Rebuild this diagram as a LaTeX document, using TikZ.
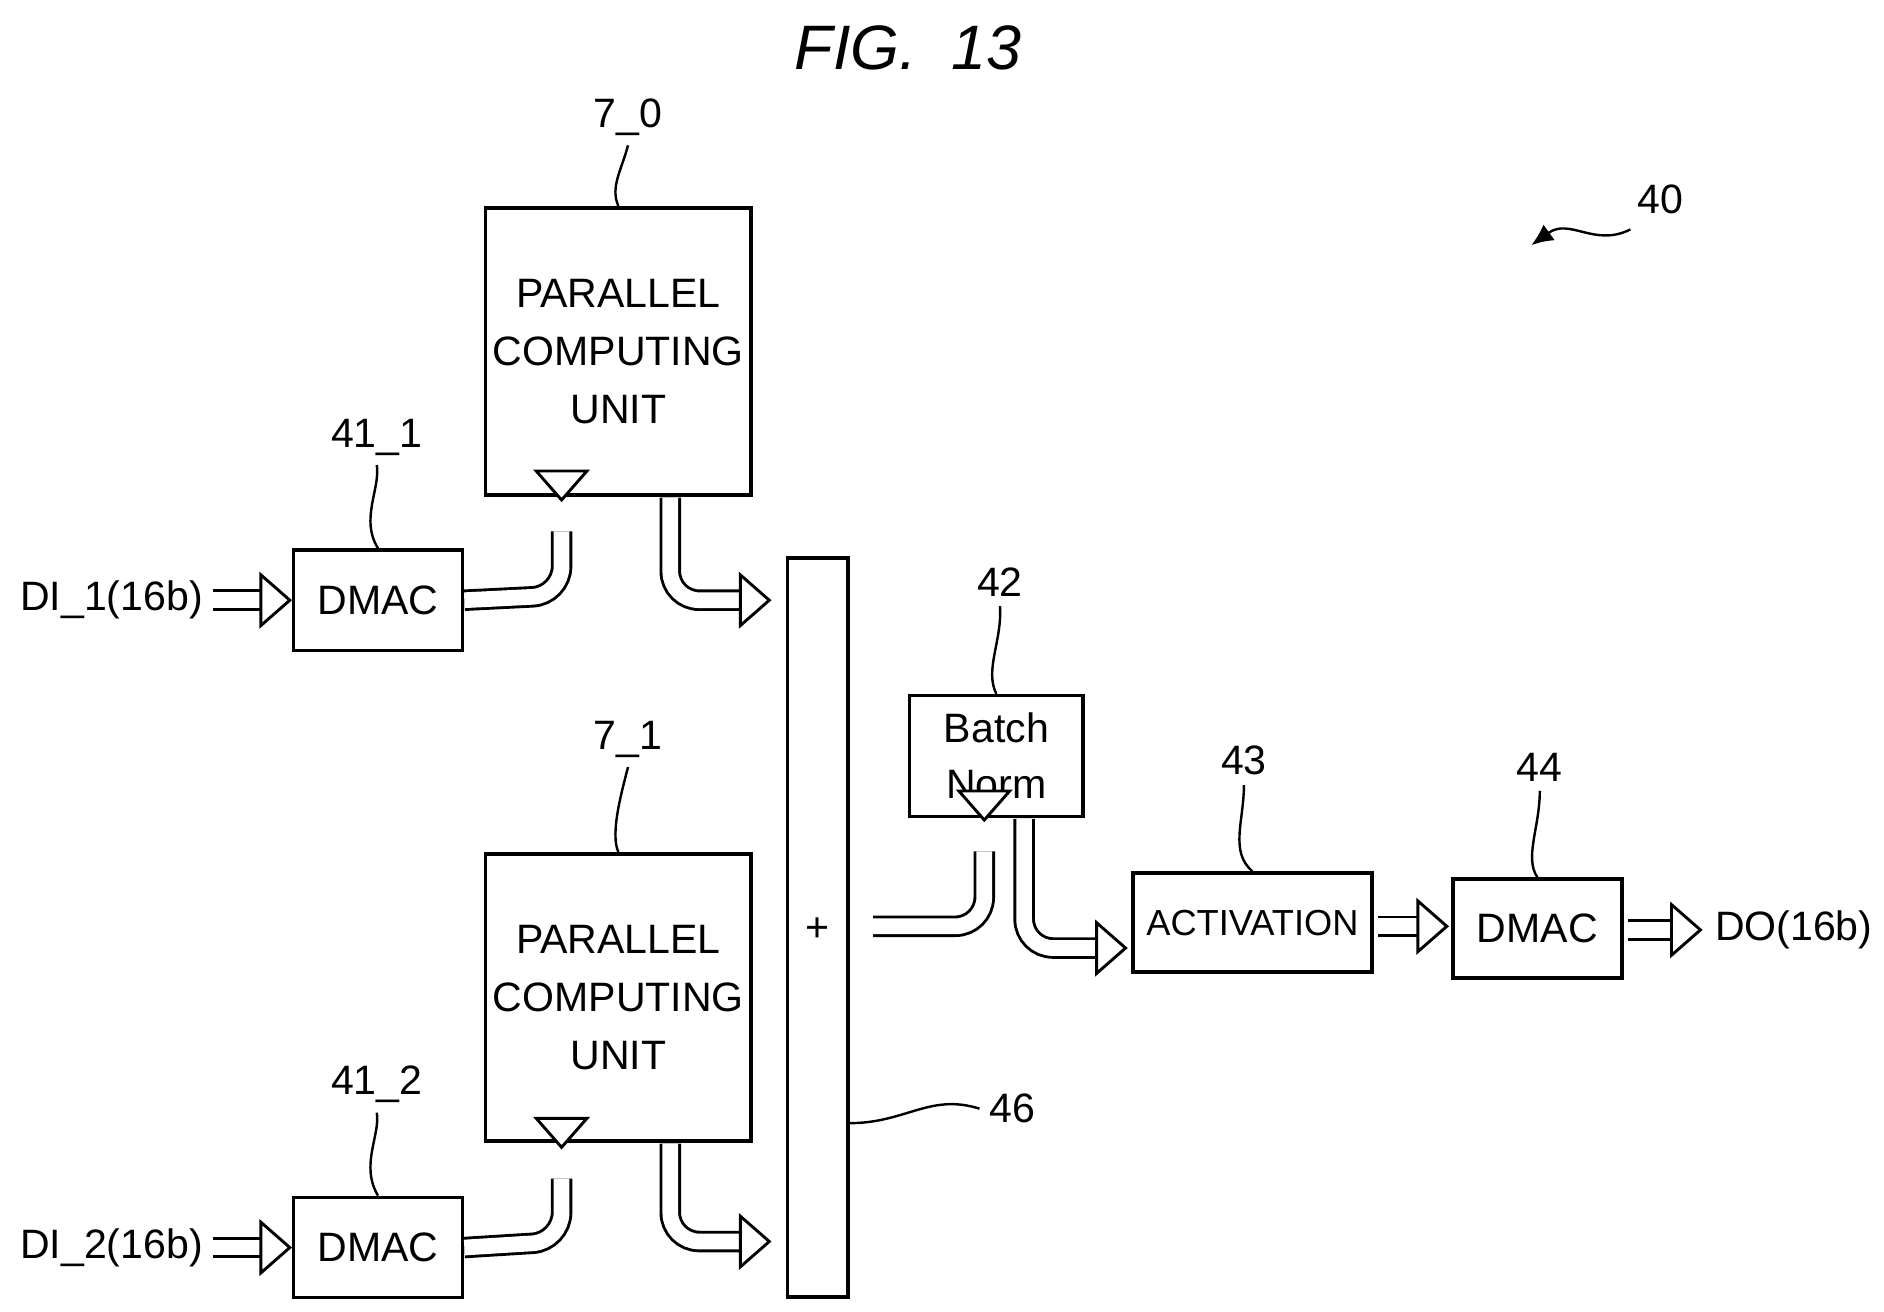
\documentclass[tikz,border=0pt]{standalone}
\usepackage{fontspec}
\setmainfont{Liberation Sans}
\usetikzlibrary{arrows.meta}
\begin{document}
\begin{tikzpicture}[x=0.5pt,y=-0.5pt,line width=1.4pt,
  box/.style={draw,line width=1.5pt,inner sep=0pt,align=center,font=\fontsize{17}{21}\selectfont},
  lbl/.style={font=\fontsize{17}{20}\selectfont},
  shaft/.style={double distance=6.5pt,line width=1.2pt,rounded corners=12pt},
  squig/.style={line width=1pt}]
\useasboundingbox (0,0) rectangle (1560,1086);
\newcommand{\hh}[2]{\draw[line width=1.2pt,fill=white,rotate around={#2:#1}] #1 -- ++(-24,-21) -- ++(0,42) -- cycle;}
\node[font=\itshape\fontsize{26}{30}\selectfont] (title) at (752,40) {FIG.\ \ 13};
% boxes
\node[box,minimum width=110pt,minimum height=119pt] (pcu0) at (512,291) {PARALLEL\\[3pt]COMPUTING\\[3pt]UNIT};
\node[box,minimum width=110pt,minimum height=119pt] (pcu1) at (512,826) {PARALLEL\\[3pt]COMPUTING\\[3pt]UNIT};
\node[box,minimum width=70pt,minimum height=41.5pt] (dmac1) at (313,497) {DMAC};
\node[box,minimum width=70pt,minimum height=41.5pt] (dmac2) at (313,1033) {DMAC};
\node[box,minimum width=25pt,minimum height=306pt] (add) at (677,768) {};
\node[lbl] (plus) at (677,770) {+};
\node[box,minimum width=72pt,minimum height=50pt] (bn) at (825,626) {Batch\\[2pt]Norm};
\node[box,minimum width=99pt,minimum height=41pt,font=\fontsize{15}{18}\selectfont] (act) at (1037,764) {ACTIVATION};
\node[box,minimum width=70pt,minimum height=41pt] (dmac3) at (1273,769) {DMAC};
\node[lbl,anchor=east] (di1) at (176,497) {DI\_1(16b)};
\node[lbl,anchor=east] (di2) at (176,1033) {DI\_2(16b)};
\node[lbl,anchor=west] (do) at (1412,770) {DO(16b)};
% labels
\node[lbl] (l70) at (520,97) {7\_0};
\node[lbl] (l71) at (520,612) {7\_1};
\node[lbl] (l411) at (312,362) {41\_1};
\node[lbl] (l412) at (312,898) {41\_2};
\node[lbl] (l42) at (828,482) {42};
\node[lbl] (l43) at (1030,630) {43};
\node[lbl] (l44) at (1275,635) {44};
\node[lbl] (l46) at (838,918) {46};
\node[lbl] (l40) at (1375,165) {40};
\draw[squig] (l70.south) .. controls (515,140) and (505,155) .. (pcu0.north);
\draw[squig] (l71.south) .. controls (515,655) and (505,690) .. (pcu1.north);
\draw[squig] (l411.south) .. controls (315,405) and (298,430) .. (dmac1.north);
\draw[squig] (l412.south) .. controls (315,940) and (298,965) .. (dmac2.north);
\draw[squig] (l42.south) .. controls (830,530) and (815,555) .. (bn.north);
\draw[squig] (l43.south) .. controls (1030,680) and (1018,705) .. (act.north);
\draw[squig] (l44.south) .. controls (1275,685) and (1262,710) .. (dmac3.north);
\draw[squig] (add.east |- 0,930) .. controls (750,930) and (770,905) .. (l46.west);
\coordinate (t40) at (1268,203);
\draw[squig,-{Latex[length=9pt,width=8pt]}] (1350,190) .. controls (1320,205) and (1300,180) .. (t40);
% arrows
\draw[shaft] (di1.east) -- (218,497); \hh{(240,497)}{0}
\draw[shaft] (di2.east) -- (218,1033); \hh{(240,1033)}{0}
\draw[shaft] (dmac1.east) -- (465,493) -- (465,440); \hh{(465,414)}{-90}
\draw[shaft] (dmac2.east) -- (465,1028) -- (465,976); \hh{(465,950)}{-90}
\draw[shaft] (555,412) -- (555,497) -- (612,497); \hh{(637,497)}{0}
\draw[shaft] (555,947) -- (555,1028) -- (612,1028); \hh{(637,1028)}{0}
\draw[shaft] (723,767) -- (815,767) -- (815,705); \hh{(815,679)}{-90}
\draw[shaft] (848,678) -- (848,785) -- (908,785); \hh{(932,785)}{0}
\draw[shaft] (1141,767) -- (1175,767); \hh{(1198,767)}{0}
\draw[shaft] (1348,770) -- (1385,770); \hh{(1408,770)}{0}
\end{tikzpicture}
\end{document}
